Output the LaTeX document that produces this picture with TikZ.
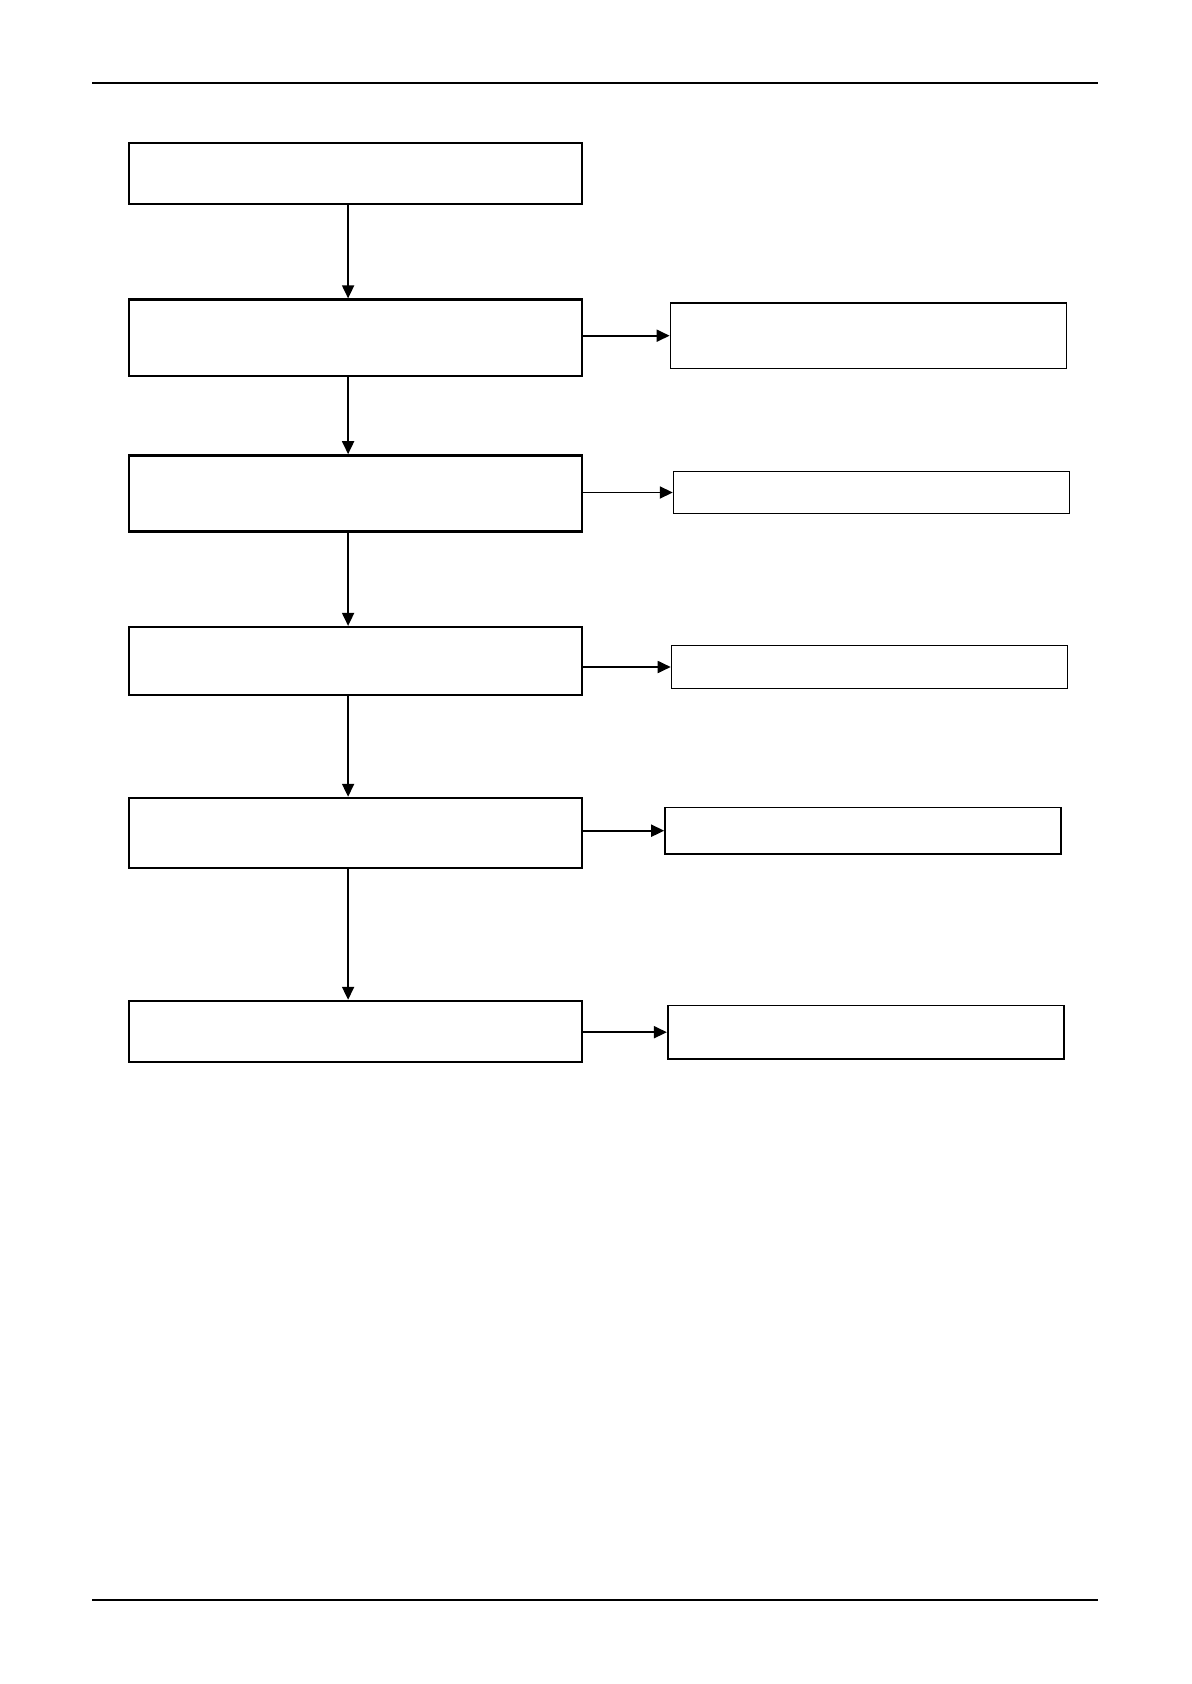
\documentclass[tikz,border=0pt]{standalone}
\usepackage{tikz}
\usetikzlibrary{positioning, arrows.meta}
\tikzset{
    main_box/.style={draw, line width=1.2pt, minimum width=226.6pt, inner sep=0pt},
    side_box/.style={draw, line width=0.8pt, minimum width=198pt, inner sep=0pt},
    main_arrow/.style={-{Triangle[length=6.5pt, width=6pt]}, line width=0.9pt, black},
    rule_line/.style={line width=0.7pt, black}
}

\begin{document}
\begin{tikzpicture}[x=0.5pt, y=-0.5pt]
        \useasboundingbox (0,0) rectangle (1191,1684);
        % page rules
        \coordinate (h1) at (92,83);
        \coordinate (h2) at (1098,83);
        \coordinate (f1) at (92,1600);
        \coordinate (f2) at (1098,1600);
        \draw[rule_line] (h1) -- (h2);
        \draw[rule_line] (f1) -- (f2);
        % main column
        \node[main_box, minimum height=30.6pt] (m1) at (355.5,173.5) {};
        \node[main_box, minimum height=38.2pt] (m2) at (355.5,337.8) {};
        \node[main_box, minimum height=38.1pt] (m3) at (355.5,493.5) {};
        \node[main_box, minimum height=33.9pt] (m4) at (355.5,661) {};
        \node[main_box, minimum height=34.9pt] (m5) at (355.5,832.9) {};
        \node[main_box, minimum height=30.6pt] (m6) at (355.5,1031.6) {};
        \foreach \i in {1,...,5} {
            \pgfmathtruncatemacro{\nexti}{\i+1}
            \draw[main_arrow] ([xshift=-3.7pt]m\i.south) -- ([xshift=-3.7pt]m\nexti.north);
        }
        % side boxes
        \node[side_box, minimum height=32.7pt] (s2) at (868.4,335.7) {};
        \node[side_box, minimum height=21pt] (s3) at (871.6,492.5) {};
        \node[side_box, minimum height=21.5pt] (s4) at (869.5,667) {};
        \node[side_box, minimum height=23.1pt] (s5) at (863,830.7) {};
        \node[side_box, minimum height=26.9pt] (s6) at (865.7,1032.2) {};
        \foreach \i in {2,...,6}
            \draw[main_arrow] (m\i.east |- s\i.west) -- (s\i.west);
    \end{tikzpicture}
\end{document}
